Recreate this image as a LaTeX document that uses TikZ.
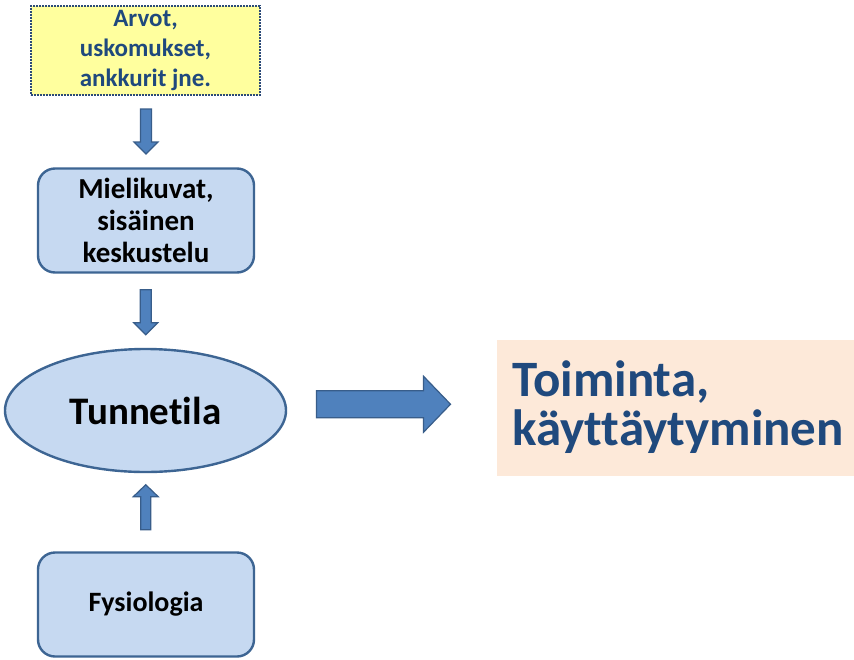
\documentclass[tikz,border=0pt]{standalone}
\usepackage{fontspec}
\setmainfont{Carlito}[Ligatures={NoCommon}]
\usetikzlibrary{shapes.geometric,calc}

\definecolor{boxfill}{HTML}{C6D9F1}
\definecolor{boxline}{HTML}{3D6593}
\definecolor{notefill}{HTML}{FFFF9E}
\definecolor{noteline}{HTML}{2B4A78}
\definecolor{darkblue}{HTML}{1F497D}
\definecolor{arrfill}{HTML}{4F81BD}
\definecolor{arrline}{HTML}{385D8A}
\definecolor{peach}{HTML}{FDE9D9}

\tikzset{
  x=1pt, y=-1pt,
  notebox/.style={rectangle, fill=notefill, draw=noteline, line width=1.6pt,
    dash pattern=on 1.6pt off 1.4pt, minimum width=229, minimum height=89,
    align=center, text=darkblue, inner sep=0pt,
    font=\fontsize{25}{30}\selectfont\bfseries},
  stagebox/.style={rectangle, rounded corners=17pt, fill=boxfill, draw=boxline,
    line width=2.4pt, minimum width=216, minimum height=104, align=center,
    inner sep=0pt, font=\fontsize{29}{32}\selectfont\bfseries},
  stateoval/.style={ellipse, fill=boxfill, draw=boxline, line width=2.4pt,
    minimum width=281, minimum height=123, inner sep=0pt,
    font=\fontsize{39}{44}\selectfont\bfseries},
  blockarrow/.style={fill=arrfill, draw=arrline, line width=1.2pt, line join=miter},
  downarrow/.pic={\path[blockarrow] (-5.5,-22.5) -- (5.5,-22.5) -- (5.5,10.5)
    -- (12,10.5) -- (0,22.5) -- (-12,10.5) -- (-5.5,10.5) -- cycle;},
  uparrow/.pic={\path[blockarrow] (-5,22.5) -- (5,22.5) -- (5,-10.5)
    -- (12.5,-10.5) -- (0,-22.5) -- (-12.5,-10.5) -- (-5,-10.5) -- cycle;},
  rightarrow/.pic={\path[blockarrow] (-67,-13.5) -- (40,-13.5) -- (40,-28)
    -- (67,0) -- (40,28) -- (40,13.5) -- (-67,13.5) -- cycle;},
}

\begin{document}
\begin{tikzpicture}
  \useasboundingbox[fill=white] (0,0) rectangle (854,659);

  % Left column: sources of the emotional state
  \node[notebox] (arvot) at (145.5,50.5) {Arvot,\\uskomukset,\\ankkurit jne.};
  \node[stagebox] (mieli) at (146,220.5) {Mielikuvat,\\sisäinen\\keskustelu};
  \node[stateoval] (tunne) at (145.5,410.5) {Tunnetila};
  \node[stagebox, font=\fontsize{28}{32}\selectfont\bfseries] (fysio)
    at (146,604.5) {Fysiologia};

  % Outcome box
  \node[rectangle, fill=peach, minimum width=357, minimum height=136,
    inner sep=0pt] (toim) at (675.5,408) {};
  \node[anchor=base west, inner sep=0pt, text=darkblue, align=left,
    font=\fontsize{51}{49}\selectfont\bfseries] (toimtext) at (512,445)
    {Toiminta,\\käyttäytyminen};

  % Block arrows between the shapes
  \pic at ($(arvot.south -| mieli.north)!0.5!(mieli.north)$) {downarrow};
  \pic at ($(mieli.south)!0.5!(tunne.north)+(0,1.5)$) {downarrow};
  \pic at ($(tunne.south)!0.5!(fysio.north)+(0,-5)$) {uparrow};
  \pic at ($(tunne.east)!0.5!(toim.west)+(-8.5,-5)$) {rightarrow};
\end{tikzpicture}
\end{document}
